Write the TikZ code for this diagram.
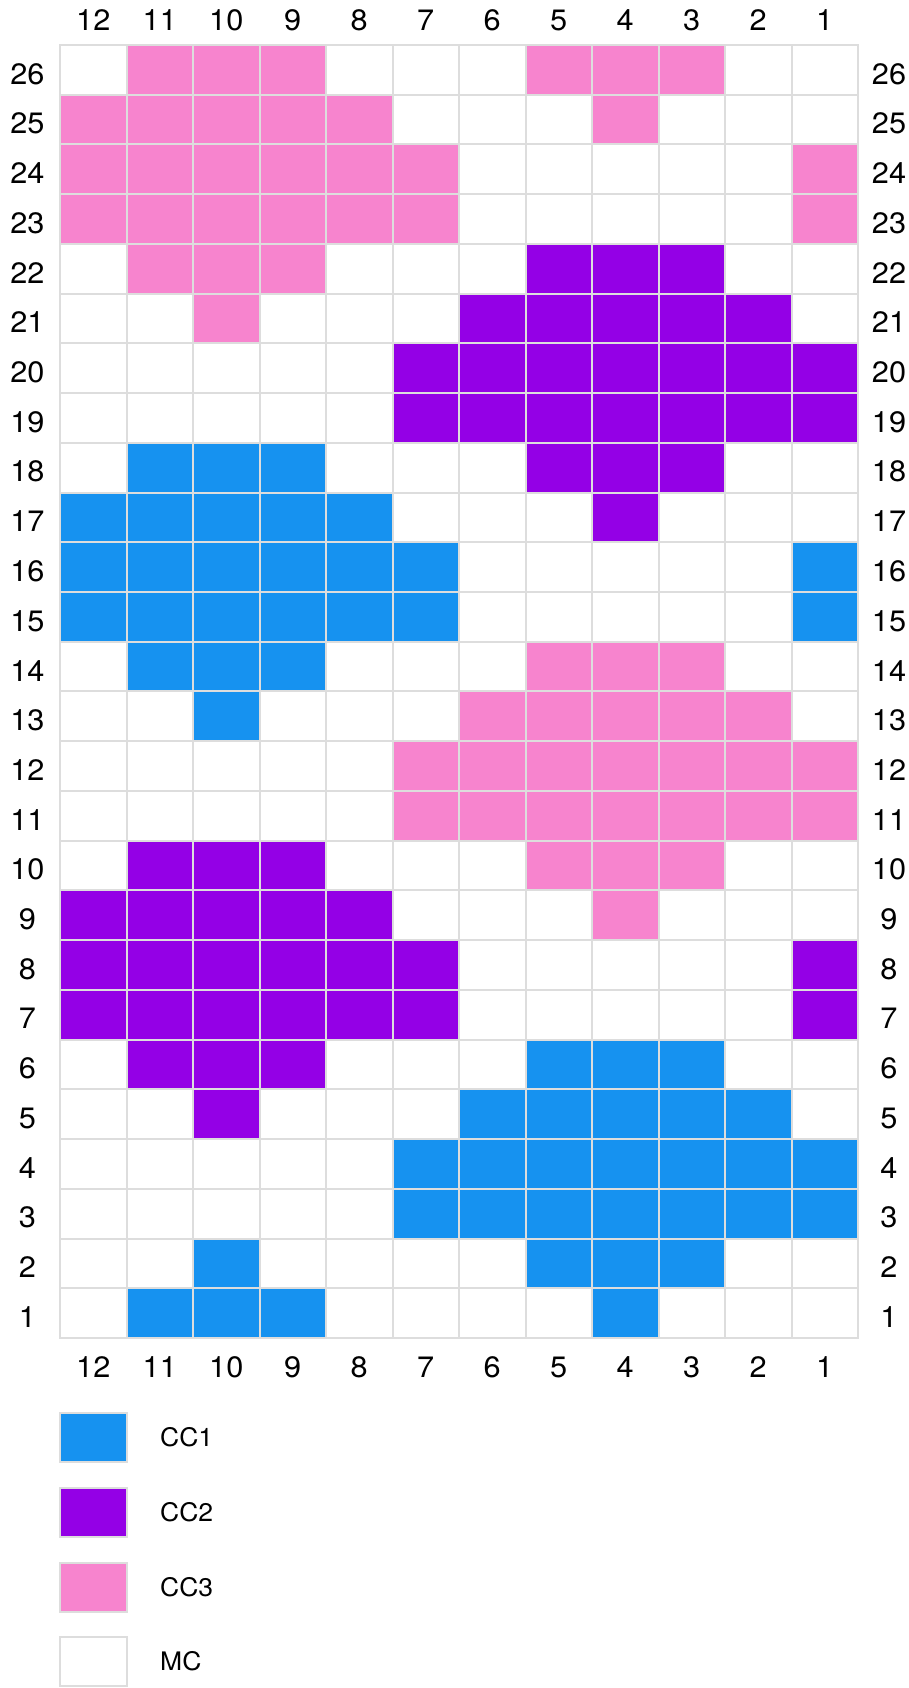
\documentclass[tikz,border=0pt]{standalone}
\usepackage{fontspec}
\setmainfont[FakeStretch=1.04]{TeX Gyre Heros}
\definecolor{cW}{RGB}{255,255,255}
\definecolor{cP}{RGB}{247,132,206}
\definecolor{cV}{RGB}{148,0,230}
\definecolor{cB}{RGB}{22,146,240}
\definecolor{gridgray}{RGB}{221,221,221}
\tikzset{
  cell/.style={draw=gridgray, line width=2pt, minimum width=66.5pt, minimum height=49.73pt, inner sep=0pt, outer sep=0pt},
  axlab/.style={font=\fontsize{29.5}{34}\selectfont, inner sep=0pt},
  leglab/.style={font=\fontsize{25.5}{30}\selectfont, anchor=west, inner sep=0pt},
  legbox/.style={draw=gridgray, line width=2pt, minimum width=67pt, minimum height=49pt, inner sep=0pt}
}
\begin{document}
\begin{tikzpicture}[x=1pt,y=-1pt]
\useasboundingbox (0,0) rectangle (909,1688);
\foreach \r/\pat in {
26/{W,P,P,P,W,W,W,P,P,P,W,W},
25/{P,P,P,P,P,W,W,W,P,W,W,W},
24/{P,P,P,P,P,P,W,W,W,W,W,P},
23/{P,P,P,P,P,P,W,W,W,W,W,P},
22/{W,P,P,P,W,W,W,V,V,V,W,W},
21/{W,W,P,W,W,W,V,V,V,V,V,W},
20/{W,W,W,W,W,V,V,V,V,V,V,V},
19/{W,W,W,W,W,V,V,V,V,V,V,V},
18/{W,B,B,B,W,W,W,V,V,V,W,W},
17/{B,B,B,B,B,W,W,W,V,W,W,W},
16/{B,B,B,B,B,B,W,W,W,W,W,B},
15/{B,B,B,B,B,B,W,W,W,W,W,B},
14/{W,B,B,B,W,W,W,P,P,P,W,W},
13/{W,W,B,W,W,W,P,P,P,P,P,W},
12/{W,W,W,W,W,P,P,P,P,P,P,P},
11/{W,W,W,W,W,P,P,P,P,P,P,P},
10/{W,V,V,V,W,W,W,P,P,P,W,W},
9/{V,V,V,V,V,W,W,W,P,W,W,W},
8/{V,V,V,V,V,V,W,W,W,W,W,V},
7/{V,V,V,V,V,V,W,W,W,W,W,V},
6/{W,V,V,V,W,W,W,B,B,B,W,W},
5/{W,W,V,W,W,W,B,B,B,B,B,W},
4/{W,W,W,W,W,B,B,B,B,B,B,B},
3/{W,W,W,W,W,B,B,B,B,B,B,B},
2/{W,W,B,W,W,W,W,B,B,B,W,W},
1/{W,B,B,B,W,W,W,W,B,W,W,W}} {
  \foreach \c [count=\i] in \pat {
    \pgfmathsetmacro{\cx}{60+66.5*(\i-0.5)}
    \pgfmathsetmacro{\cy}{45+49.73*(26-\r+0.5)}
    \node[cell, fill=c\c] (cell-\i-\r) at (\cx,\cy) {};
  }
  \pgfmathsetmacro{\ly}{45+49.73*(26-\r+0.5)+4}
  \node[axlab] (rl-\r) at (27.5,\ly) {\r};
  \node[axlab] (rr-\r) at (889,\ly) {\r};
}
\foreach \i in {1,...,12} {
  \pgfmathsetmacro{\cx}{60+66.5*(\i-0.5)}
  \pgfmathtruncatemacro{\lab}{13-\i}
  \node[axlab] (ct-\i) at (\cx,20) {\lab};
  \node[axlab] (cb-\i) at (\cx,1367) {\lab};
}
\node[legbox, fill=cB] (lg1) at (93.5,1437.5) {};
\node[legbox, fill=cV] (lg2) at (93.5,1512.5) {};
\node[legbox, fill=cP] (lg3) at (93.5,1587.5) {};
\node[legbox, fill=cW] (lg4) at (93.5,1661.5) {};
\node[leglab] (lt1) at (160,1437.5) {CC1};
\node[leglab] (lt2) at (160,1512.5) {CC2};
\node[leglab] (lt3) at (160,1587.5) {CC3};
\node[leglab] (lt4) at (160,1661.5) {MC};
\end{tikzpicture}
\end{document}
